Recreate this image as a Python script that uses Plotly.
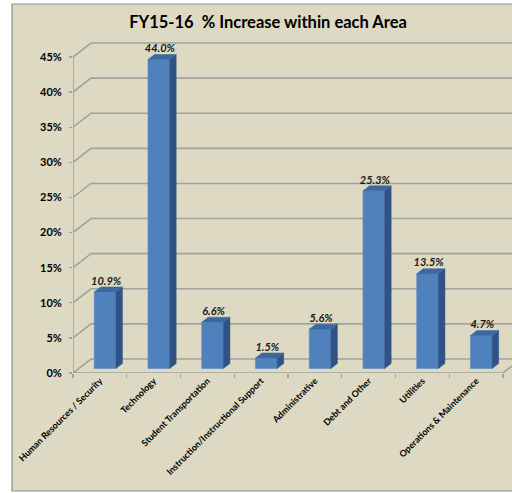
import plotly.graph_objects as go

categories = ["Human Resources / Security", "Technology", "Student Transportation",
              "Instruction/Instructional Support", "Administrative", "Debt and Other",
              "Utilities", "Operations & Maintenance"]
values = [10.9, 44.0, 6.6, 1.5, 5.6, 25.3, 13.5, 4.7]
y_ticks = [0, 5, 10, 15, 20, 25, 30, 35, 40, 45]
title_text = "FY15-16  % Increase within each Area"

# ---- geometry (pixels) ----
W, H = 512, 493
L, R, T, B = 73, 512, 30, 373
PX_PER_CAT = 53.75
PX_PER_PCT = (373 - 57) / 45.0
x0 = -0.5
x1 = x0 + (R - L) / PX_PER_CAT
y1 = (B - T) / PX_PER_PCT

# 3D offsets
wall_dx = 18 / PX_PER_CAT
wall_dy = 14 / PX_PER_PCT
bar_ox = 5.2 / PX_PER_CAT
bar_oy = 4.5 / PX_PER_PCT
bar_w = 21.7 / PX_PER_CAT
side_dx = 6.5 / PX_PER_CAT
side_dy = 5.0 / PX_PER_PCT
lab_dx = 1.0 / PX_PER_CAT
lab_dy = -0.5 / PX_PER_PCT

BG = "#DDD9C3"
GRID = "#A3A29C"
FRONT = "#4F81BD"
TOP = "#3D689F"
SIDE = "#2F5385"
FONT = "Lato"

n = len(categories)
xs = list(range(n))

fig = go.Figure()

# chart frame (paper coords derived from pixel geometry)
px2x = lambda p: (p - L) / (R - L)
py2y = lambda p: (B - p) / (B - T)
fig.add_shape(type="rect", xref="paper", yref="paper", layer="below",
              x0=px2x(12), x1=px2x(W + 10), y0=py2y(491), y1=py2y(4),
              fillcolor=BG, line=dict(color="#8E8E8E", width=1.2))

# back-wall gridlines with left-wall diagonals (below the bars)
for v in y_ticks:
    fig.add_shape(type="path", xref="x", yref="y", layer="below",
                  path=f"M{x0},{v} L{x0 + wall_dx},{v + wall_dy} L{x1},{v + wall_dy}",
                  line=dict(color=GRID, width=1.6))

# front y-axis line and floor front edge
fig.add_trace(go.Scatter(x=[x0, x0], y=[0, y_ticks[-1]], mode="lines",
                         line=dict(color=GRID, width=1.6), hoverinfo="skip",
                         showlegend=False, cliponaxis=False))
fig.add_trace(go.Scatter(x=[x0, x0 + n, x0 + n + wall_dx], y=[0, 0, wall_dy], mode="lines",
                         line=dict(color=GRID, width=1.6), hoverinfo="skip",
                         showlegend=False, cliponaxis=False))

# bars: front faces
fig.add_trace(go.Bar(x=[i + bar_ox for i in xs], y=values, base=[bar_oy] * n,
                     width=bar_w, marker=dict(color=FRONT, line=dict(color="#5B8BC6", width=0.6)),
                     hoverinfo="skip", showlegend=False))

# side faces and top faces
sx, sy, tx, ty = [], [], [], []
for i, v in zip(xs, values):
    xl = i + bar_ox - bar_w / 2
    xr = i + bar_ox + bar_w / 2
    yb = bar_oy
    yt = bar_oy + v
    sx += [xr, xr + side_dx, xr + side_dx, xr, xr, None]
    sy += [yb, yb + side_dy, yt + side_dy, yt, yb, None]
    tx += [xl, xl + side_dx, xr + side_dx, xr, xl, None]
    ty += [yt, yt + side_dy, yt + side_dy, yt, yt, None]
fig.add_trace(go.Scatter(x=sx, y=sy, mode="lines", fill="toself", fillcolor=SIDE,
                         line=dict(color=SIDE, width=0.5), hoverinfo="skip", showlegend=False))
fig.add_trace(go.Scatter(x=tx, y=ty, mode="lines", fill="toself", fillcolor=TOP,
                         line=dict(color=TOP, width=0.5), hoverinfo="skip", showlegend=False))

# data labels
fig.add_trace(go.Scatter(x=[i + bar_ox + lab_dx for i in xs],
                         y=[v + bar_oy + side_dy + lab_dy for v in values],
                         mode="text", text=[f"{v:.1f}%" for v in values],
                         textposition="top center",
                         textfont=dict(family=FONT, size=11, color="#1a1a1a", weight="bold", style="italic"),
                         hoverinfo="skip", showlegend=False, cliponaxis=False))

fig.update_layout(
    width=W, height=H,
    margin=dict(l=L, r=W - R, t=T, b=H - B, autoexpand=False),
    paper_bgcolor="white", plot_bgcolor="rgba(0,0,0,0)",
    bargap=0,
    title=dict(text=title_text, x=268 / W, xref="container", xanchor="center",
               y=1 - 22 / H, yref="container", yanchor="middle", automargin=False,
               font=dict(family=FONT, size=16.5, color="black", weight="bold")),
    xaxis=dict(range=[x0, x1], tickmode="array", tickvals=xs, ticktext=categories,
               tickangle=-45, ticks="", showgrid=False, zeroline=False, showline=False,
               automargin=False, fixedrange=True,
               tickfont=dict(family=FONT, size=9, color="black", weight="bold"),
               minor=dict(tickmode="array", tickvals=[x0 + k for k in range(n + 1)],
                          ticks="outside", ticklen=4, tickcolor=GRID, tickwidth=1.4, showgrid=False)),
    yaxis=dict(range=[0, y1], tickmode="array", tickvals=y_ticks,
               ticktext=[f"{v}%" for v in y_ticks], ticks="outside", ticklen=3,
               tickcolor=GRID, tickwidth=1.4, showgrid=False, zeroline=False, showline=False,
               ticklabelstandoff=5, automargin=False, fixedrange=True,
               tickfont=dict(family=FONT, size=11, color="black", weight="bold")),
)

fig.write_html("out.html", config={"displayModeBar": False, "staticPlot": True},
               post_script="document.body.style.margin='0px';document.body.style.overflow='hidden';")
